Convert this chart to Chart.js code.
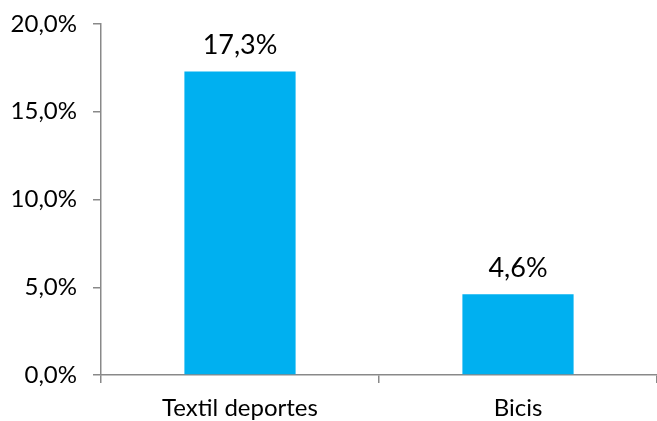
<!DOCTYPE html>
<html>
<head>
<meta charset="utf-8">
<script src="https://cdn.jsdelivr.net/npm/chart.js@4.4.1/dist/chart.umd.min.js"></script>
<style>
  html, body { margin: 0; padding: 0; background: #fff; }
  #wrap { width: 657px; height: 421px; }
</style>
</head>
<body>
<div id="wrap"><canvas id="chart" width="657" height="421"></canvas></div>
<script>
const categories = ['Textil deportes', 'Bicis'];
const values = [17.3, 4.6];
const yTicks = [0, 5, 10, 15, 20];

const fmt = v => v.toFixed(1).replace('.', ',') + '%';
const axisGrey = '#898989';
const fontFamily = 'Lato, "Open Sans", sans-serif';

// value labels above the bars
const barLabels = {
    id: 'barLabels',
    afterDatasetsDraw(chart) {
        const ctx = chart.ctx;
        const meta = chart.getDatasetMeta(0);
        ctx.save();
        ctx.font = '27px ' + fontFamily;
        ctx.fillStyle = '#000';
        ctx.textAlign = 'center';
        ctx.textBaseline = 'alphabetic';
        meta.data.forEach((bar, i) => {
            ctx.fillText(fmt(values[i]), bar.x, bar.y - 17);
        });
        ctx.restore();
    }
};

new Chart(document.getElementById('chart').getContext('2d'), {
    type: 'bar',
    data: {
        labels: categories,
        datasets: [{
            data: values,
            backgroundColor: '#00B0F0',
            borderWidth: 0,
            categoryPercentage: 0.4,
            barPercentage: 1
        }]
    },
    options: {
        responsive: false,
        animation: false,
        layout: { padding: { top: 24, right: 0, left: 0, bottom: 0 } },
        plugins: { legend: { display: false }, tooltip: { enabled: false } },
        scales: {
            x: {
                grid: { display: true, drawOnChartArea: false, offset: true, tickLength: 8, color: axisGrey, lineWidth: 1.5 },
                border: { color: axisGrey, width: 1.5 },
                ticks: { color: '#000', font: { family: fontFamily, size: 24 }, padding: 11 },
                afterFit(scale) { scale.height = 46; }
            },
            y: {
                min: 0,
                max: 20,
                afterBuildTicks(scale) { scale.ticks = yTicks.map(v => ({ value: v })); },
                grid: { display: true, drawOnChartArea: false, tickLength: 8, color: axisGrey, lineWidth: 1.5 },
                border: { color: axisGrey, width: 1.5 },
                ticks: { color: '#000', font: { family: fontFamily, size: 24 }, padding: 16, callback: v => fmt(v) },
                afterFit(scale) {
                    scale.width = 101;
                    scale.paddingTop = 0;
                    scale.paddingBottom = 0;
                }
            }
        }
    },
    plugins: [barLabels]
});
</script>
</body>
</html>
